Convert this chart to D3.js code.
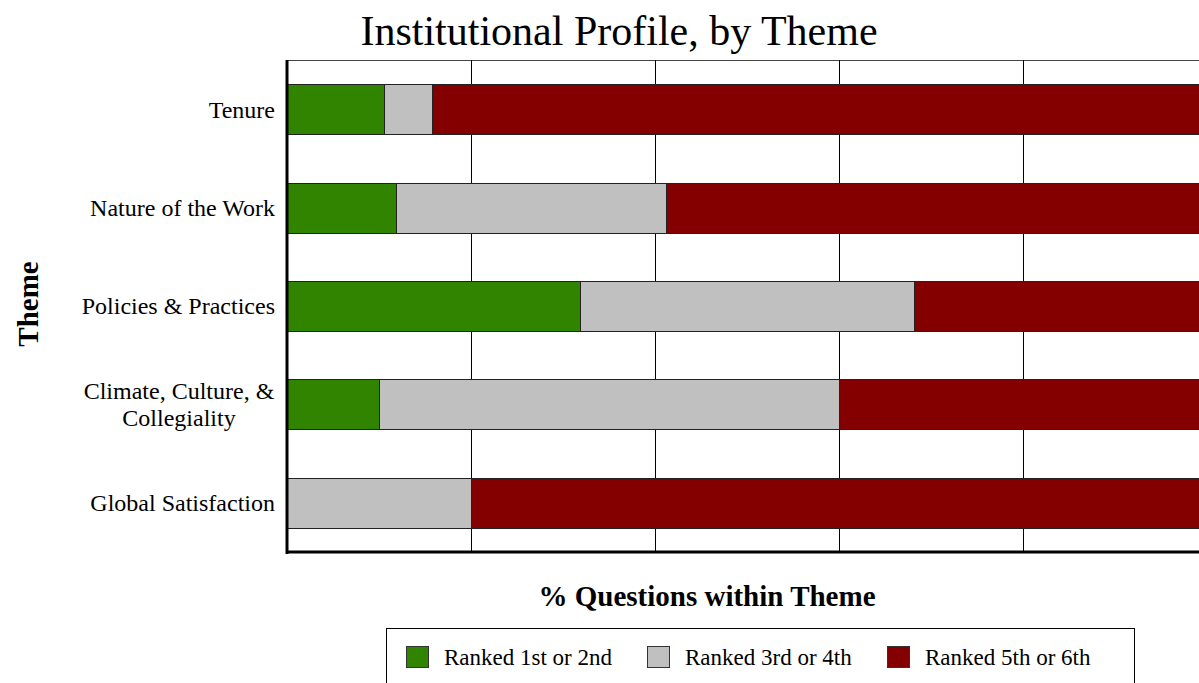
<!DOCTYPE html>
<html>
<head>
<meta charset="utf-8">
<script src="https://cdn.jsdelivr.net/npm/d3@7"></script>
<style>
  body { margin: 0; background: #fff; overflow: hidden; }
  text { font-family: "Liberation Serif", "Times New Roman", serif; }
</style>
</head>
<body>
<svg id="chart" width="1199" height="683"></svg>
<script>
let themes = ["Tenure", "Nature of the Work", "Policies & Practices", "Climate, Culture, & Collegiality", "Global Satisfaction"];
let themeLines = [["Tenure"], ["Nature of the Work"], ["Policies & Practices"], ["Climate, Culture, &", "Collegiality"], ["Global Satisfaction"]];
let seriesNames = ["Ranked 1st or 2nd", "Ranked 3rd or 4th", "Ranked 5th or 6th"];
let seriesColors = ["#318400", "#c0c0c0", "#840000"];
let ranked12 = [10.5, 11.8, 31.8, 10, 0];
let ranked34 = [5.3, 29.4, 36.4, 50, 20];
let ranked56 = [84.2, 58.8, 31.8, 40, 80];
let xTicks = [0, 20, 40, 60, 80, 100];

let svg = d3.select("#chart");

let plotLeft = 287, plotRight = 1207, plotTop = 60, plotBottom = 552;

let x = d3.scaleLinear().domain([0, 100]).range([plotLeft, plotRight]);
let y = d3.scaleBand().domain(themes).range([plotTop, plotBottom]).paddingInner(0.49).paddingOuter(0.245);

// title
svg.append("text")
    .attr("x", 619).attr("y", 45)
    .attr("text-anchor", "middle")
    .style("font-size", "42px")
    .text("Institutional Profile, by Theme");

// top border
svg.append("line")
    .attr("x1", plotLeft).attr("x2", plotRight)
    .attr("y1", plotTop + 0.5).attr("y2", plotTop + 0.5)
    .attr("stroke", "#444").attr("stroke-width", 1);

// gridlines
svg.append("g")
    .selectAll("line")
    .data(xTicks.slice(1))
    .enter()
    .append("line")
    .attr("x1", d => Math.round(x(d)) + 0.5)
    .attr("x2", d => Math.round(x(d)) + 0.5)
    .attr("y1", plotTop).attr("y2", plotBottom)
    .attr("stroke", "#000").attr("stroke-width", 1);

// stacked bars
let rows = themes.map((t, i) => ({ theme: t, values: [ranked12[i], ranked34[i], ranked56[i]] }));
let stacked = [];
rows.forEach(r => {
    let x0 = 0;
    r.values.forEach((v, j) => {
        if (v > 0) stacked.push({ theme: r.theme, x0: x0, x1: x0 + v, color: seriesColors[j] });
        x0 += v;
    });
});

svg.append("g")
    .selectAll("rect")
    .data(stacked)
    .enter()
    .append("rect")
    .attr("x", d => Math.round(x(d.x0)) + 0.5)
    .attr("y", d => Math.round(y(d.theme)) + 0.5)
    .attr("width", d => Math.round(x(d.x1)) - Math.round(x(d.x0)))
    .attr("height", Math.round(y.bandwidth()))
    .attr("fill", d => d.color)
    .attr("stroke", "#222")
    .attr("stroke-width", 1);

// axes lines
svg.append("line")
    .attr("x1", plotLeft).attr("x2", plotLeft)
    .attr("y1", plotTop).attr("y2", plotBottom + 2)
    .attr("stroke", "#000").attr("stroke-width", 3);
svg.append("line")
    .attr("x1", plotLeft - 1).attr("x2", plotRight)
    .attr("y1", plotBottom).attr("y2", plotBottom)
    .attr("stroke", "#000").attr("stroke-width", 3);

// y labels
let labels = svg.append("g")
    .selectAll("text")
    .data(themes)
    .enter()
    .append("text")
    .attr("text-anchor", "end")
    .attr("x", 275)
    .attr("y", d => y(d) + y.bandwidth() / 2)
    .style("font-size", "24px");

labels.each(function(d, i) {
    let lines = themeLines[i];
    let t = d3.select(this);
    lines.forEach((ln, k) => {
        t.append("tspan")
            .attr("x", 275)
            .attr("dy", k === 0 ? ((0.35 - (lines.length - 1) * 0.56) + "em") : "1.12em")
            .text(ln);
    });
});
// centre multi-line label text block
labels.filter((d, i) => themeLines[i].length > 1).attr("text-anchor", "middle").selectAll("tspan").attr("x", 179);

// axis titles
svg.append("text")
    .attr("x", 707).attr("y", 606)
    .attr("text-anchor", "middle")
    .style("font-size", "29px").style("font-weight", "bold")
    .text("% Questions within Theme");

svg.append("text")
    .attr("transform", "translate(38,304) rotate(-90)")
    .attr("text-anchor", "middle")
    .style("font-size", "29px").style("font-weight", "bold")
    .text("Theme");

// legend
let legend = svg.append("g");
legend.append("rect")
    .attr("x", 386.5).attr("y", 628.5)
    .attr("width", 748).attr("height", 80)
    .attr("fill", "#fff").attr("stroke", "#000").attr("stroke-width", 1);

let legendX = [406, 647, 887];
let items = legend.selectAll("g.item")
    .data(seriesNames)
    .enter()
    .append("g")
    .attr("transform", (d, i) => "translate(" + legendX[i] + ",646)");
items.append("rect")
    .attr("x", 0.5).attr("y", 0.5)
    .attr("width", 22).attr("height", 21)
    .attr("fill", (d, i) => seriesColors[i])
    .attr("stroke", "#333");
items.append("text")
    .attr("x", 38).attr("y", 19)
    .style("font-size", "23px")
    .text(d => d);
</script>
</body>
</html>
